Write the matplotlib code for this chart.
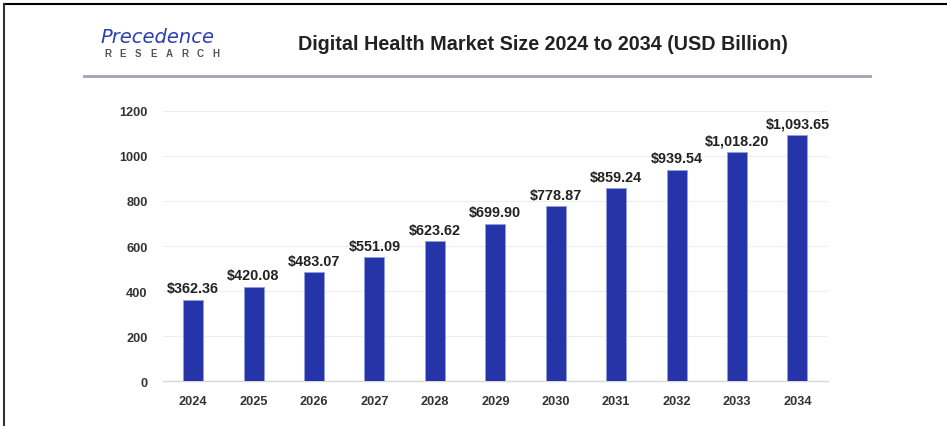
import matplotlib.pyplot as plt
from matplotlib.lines import Line2D

plt.rcParams['font.family'] = ['Liberation Sans', 'DejaVu Sans']

years = ['2024', '2025', '2026', '2027', '2028', '2029',
         '2030', '2031', '2032', '2033', '2034']
market_size = [362.36, 420.08, 483.07, 551.09, 623.62, 699.90,
               778.87, 859.24, 939.54, 1018.20, 1093.65]
y_ticks = [0, 200, 400, 600, 800, 1000, 1200]

fig = plt.figure(figsize=(9.47, 4.27), dpi=100)
ax = fig.add_axes([0.172, 0.105, 0.702, 0.633])

x = range(len(years))
bars = ax.bar(x, market_size, width=0.33, color='#2535a9',
              edgecolor='#8fa0e0', linewidth=0.6, zorder=3)

for xi, v in zip(x, market_size):
    ax.text(xi, v + 18, f'${v:,.2f}', ha='center', va='bottom',
            fontsize=10.4, fontweight='bold', color='#222222')

ax.set_xlim(-0.5, len(years) - 0.5)
ax.set_ylim(0, 1200)
ax.set_xticks(list(x))
ax.set_xticklabels(years)
ax.set_yticks(y_ticks)
ax.tick_params(axis='both', length=0, labelsize=9.2, colors='#333333')
ax.tick_params(axis='x', pad=10)
ax.tick_params(axis='y', pad=11)
for lbl in ax.get_xticklabels() + ax.get_yticklabels():
    lbl.set_fontweight('bold')

ax.grid(axis='y', color='#eeeeee', linewidth=0.8, zorder=0)
for s in ['top', 'right', 'left']:
    ax.spines[s].set_visible(False)
ax.spines['bottom'].set_color('#d8d8d8')
ax.spines['bottom'].set_linewidth(1.0)

# header: logo text, title and divider
fig.text(0.106, 0.912, 'Precedence', fontsize=14, color='#2d3fb5',
         fontstyle='italic', fontfamily='DejaVu Sans', va='center')
for i, ch in enumerate('RESEARCH'):
    fig.text((104 + i * 15.5) / 947, 0.874, ch, fontsize=7, color='#555555',
             fontweight='bold', va='center', ha='left')
fig.text(0.573, 0.895, 'Digital Health Market Size 2024 to 2034 (USD Billion)',
         fontsize=14.2, fontweight='bold', color='#222222', ha='center', va='center')
fig.add_artist(Line2D([0.089, 0.919], [0.82, 0.82], color='#a0a0b8',
                      linewidth=2, transform=fig.transFigure))

# frame lines along the top and left edges
fig.add_artist(Line2D([0.004, 1.0], [0.988, 0.988], color='black',
                      linewidth=1.5, transform=fig.transFigure))
fig.add_artist(Line2D([0.004, 0.004], [0.0, 0.988], color='#333333',
                      linewidth=1.5, transform=fig.transFigure))

fig.savefig('out.png', dpi=100)
